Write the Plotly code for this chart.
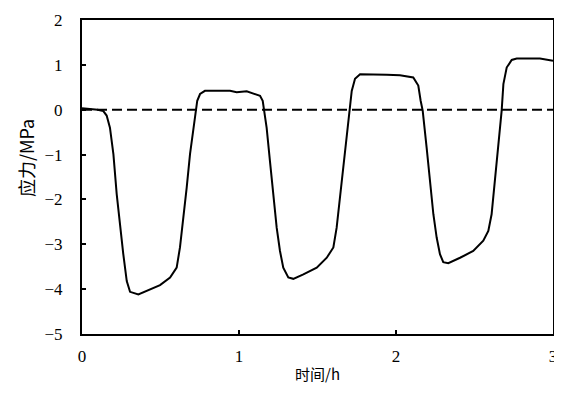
import plotly.graph_objects as go

# Measured stress curve (time in h, stress in MPa)
time_h = [0.0, 0.05, 0.10, 0.136, 0.157, 0.178, 0.200, 0.221, 0.242, 0.263, 0.285, 0.306,
          0.359, 0.412, 0.497, 0.561, 0.603, 0.624, 0.645, 0.667, 0.688, 0.709, 0.726,
          0.734, 0.752, 0.783, 0.943, 0.985, 1.049, 1.091, 1.134, 1.151, 1.159, 1.176,
          1.197, 1.219, 1.240, 1.261, 1.282, 1.314, 1.346, 1.410, 1.495, 1.559, 1.601,
          1.622, 1.643, 1.665, 1.686, 1.703, 1.718, 1.739, 1.771, 1.941, 2.025, 2.110,
          2.142, 2.157, 2.170, 2.195, 2.217, 2.238, 2.259, 2.280, 2.301, 2.333, 2.408,
          2.492, 2.556, 2.588, 2.609, 2.631, 2.652, 2.673, 2.684, 2.705, 2.737, 2.769,
          2.917, 2.981, 3.0]
stress_mpa = [0.03, 0.02, 0.0, -0.03, -0.13, -0.40, -0.99, -1.88, -2.63, -3.22, -3.82, -4.06,
              -4.12, -4.04, -3.91, -3.74, -3.52, -3.07, -2.48, -1.73, -0.99, -0.40, 0.02,
              0.20, 0.35, 0.42, 0.42, 0.39, 0.41, 0.36, 0.31, 0.20, -0.02, -0.40,
              -1.14, -1.88, -2.63, -3.15, -3.52, -3.74, -3.77, -3.67, -3.52, -3.30, -3.07,
              -2.63, -1.96, -1.29, -0.54, -0.02, 0.42, 0.69, 0.79, 0.78, 0.77, 0.72,
              0.54, 0.20, -0.02, -0.84, -1.58, -2.33, -2.85, -3.22, -3.40, -3.42, -3.30,
              -3.15, -2.92, -2.70, -2.33, -1.58, -0.84, -0.02, 0.57, 0.94, 1.11, 1.14,
              1.14, 1.10, 1.09]

# Zero reference line
ref_time = [0, 3]
ref_stress = [0, 0]

x_ticks = [0, 1, 2, 3]
y_ticks = [-5, -4, -3, -2, -1, 0, 1, 2]
x_title = "时间/h"
y_title = "应力/MPa"

fig = go.Figure()
fig.add_trace(go.Scatter(x=ref_time, y=ref_stress, mode="lines",
                         line=dict(color="black", width=2, dash="10px,5px"),
                         showlegend=False, hoverinfo="skip"))
fig.add_trace(go.Scatter(x=time_h, y=stress_mpa, mode="lines",
                         line=dict(color="black", width=2),
                         showlegend=False))

serif = "Liberation Serif, Times New Roman, serif"
tick_font = dict(family=serif, size=17, color="black")
cjk = "Noto Sans CJK SC"

fig.update_layout(
    width=554, height=378,
    margin=dict(l=74, r=9, t=12, b=52),
    font=dict(family=serif, size=17, color="black"),
    paper_bgcolor="white", plot_bgcolor="white",
    xaxis=dict(range=[0, 3], tickvals=x_ticks,
               ticks="inside", ticklen=4, tickwidth=1.5,
               tickcolor="black", showline=True, linecolor="black", linewidth=2, mirror=True,
               showgrid=False, zeroline=False, tickfont=tick_font, ticklabelstandoff=6,
               ticklabeloverflow="allow", automargin=False),
    yaxis=dict(range=[-5, 2], tickvals=y_ticks,
               ticks="inside", ticklen=4, tickwidth=1.5,
               tickcolor="black", showline=True, linecolor="black", linewidth=2, mirror=True,
               showgrid=False, zeroline=False, tickfont=tick_font, ticklabelstandoff=14,
               automargin=False),
    annotations=[
        dict(text=x_title, xref="paper", yref="paper", x=0.5, y=-0.127,
             xanchor="center", yanchor="middle", showarrow=False,
             font=dict(family=cjk, size=15, color="black")),
        dict(text=y_title, xref="paper", yref="paper", x=-0.119, y=0.56,
             xanchor="center", yanchor="middle", showarrow=False, textangle=-90,
             font=dict(family=cjk, size=18, color="black")),
    ],
)

fig.write_html("out.html")
